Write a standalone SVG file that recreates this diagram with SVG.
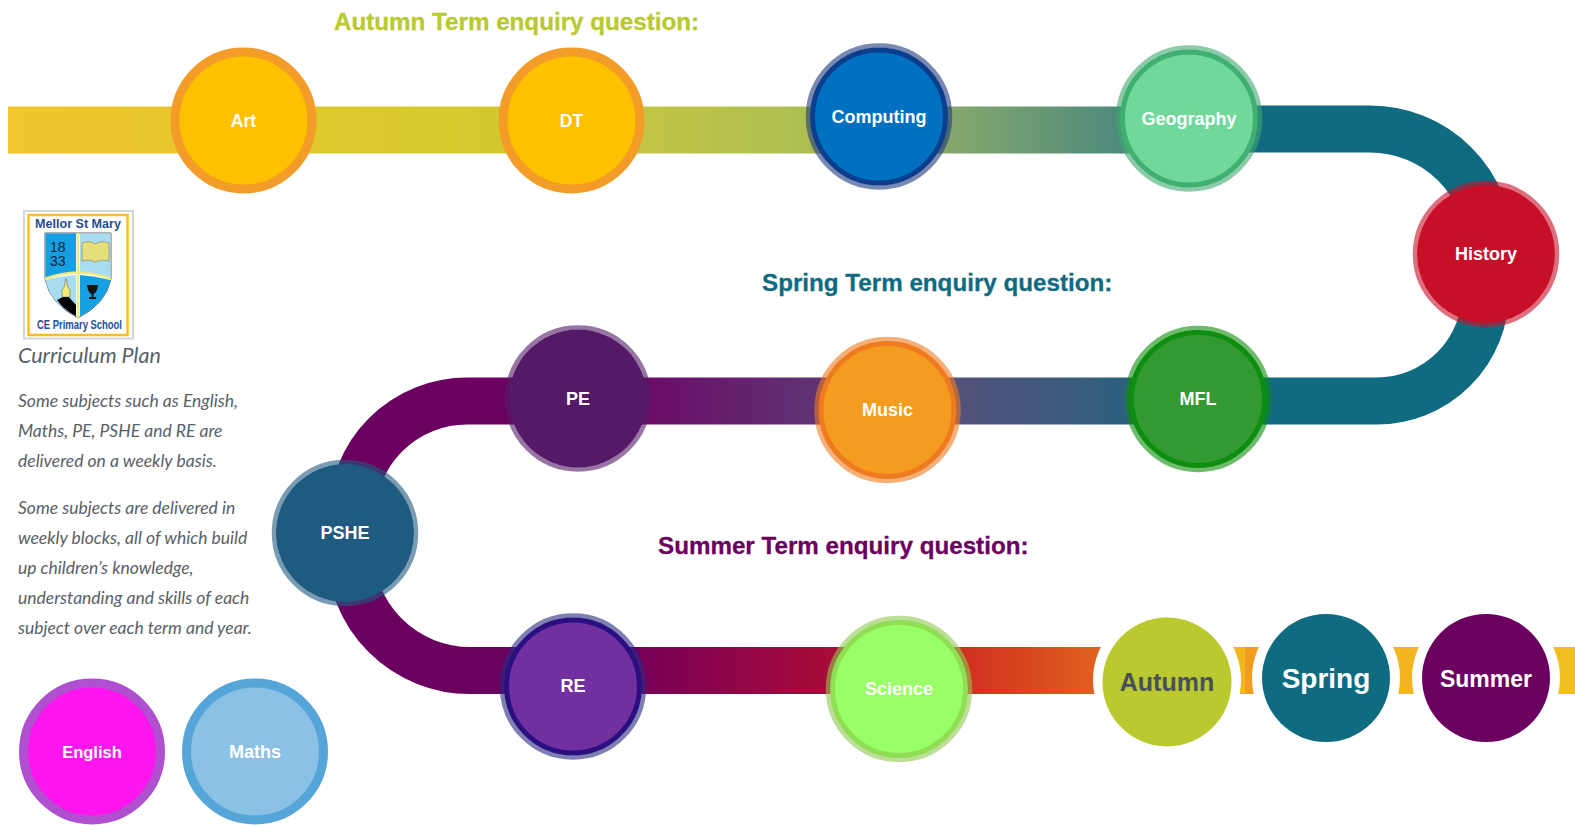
<svg xmlns="http://www.w3.org/2000/svg" width="1575" height="825" viewBox="0 0 1575 825">
<defs>
<linearGradient id="gTop" gradientUnits="userSpaceOnUse" x1="8" y1="0" x2="1190" y2="0">
<stop offset="0" stop-color="#f2c52c"/><stop offset="0.268" stop-color="#dec92c"/><stop offset="0.42" stop-color="#d4c82f"/><stop offset="0.535" stop-color="#c2c545"/><stop offset="0.67" stop-color="#aebf52"/><stop offset="0.797" stop-color="#84a86c"/><stop offset="0.94" stop-color="#4f8a7c"/><stop offset="1" stop-color="#3f8080"/>
</linearGradient>
<linearGradient id="gMid" gradientUnits="userSpaceOnUse" x1="1260" y1="0" x2="640" y2="0">
<stop offset="0" stop-color="#0f6b80"/><stop offset="0.5" stop-color="#55517c"/><stop offset="1" stop-color="#6d0a68"/>
</linearGradient>
<linearGradient id="gBot" gradientUnits="userSpaceOnUse" x1="640" y1="0" x2="1095" y2="0">
<stop offset="0" stop-color="#780058"/><stop offset="0.39" stop-color="#a50a3a"/><stop offset="0.717" stop-color="#d03020"/><stop offset="1" stop-color="#e0601f"/>
</linearGradient>
<style>
.road{fill:none;stroke-width:47}
.single{stroke-width:9}
.halo{fill:none;stroke-width:4.500;stroke-opacity:.6}
.ring{fill:none;stroke-width:5}
.lbl{font-family:"Liberation Sans",Arial,sans-serif;font-weight:700;text-anchor:middle;fill:#fff;font-size:18px}
.head{font-family:"Liberation Sans",Arial,sans-serif;font-weight:700;font-size:24.200px;stroke-width:.3}
.body{font-family:Lato,"Open Sans",sans-serif;font-style:italic;font-size:17.500px;fill:#595f67}
.logo{font-family:"Liberation Sans",Arial,sans-serif;font-weight:700;fill:#1f4e96;text-anchor:middle}
</style>
</defs>
<rect width="1575" height="825" fill="#fff"/>
<g id="connectors">
<path class="road" stroke="url(#gTop)" d="M8 130H1189"/>
<path class="road" stroke="#0f6b80" d="M1189 129H1370A120 120 0 0 1 1490 249L1485.500 292.500A108.500 108.500 0 0 1 1377 401H1260"/>
<path class="road" stroke="url(#gMid)" d="M1260 401H640"/>
<path class="road" stroke="#6b0060" d="M640 401H467A115 115 0 0 0 352 516L350 550A120 120 0 0 0 470 670.500H640"/>
<path class="road" stroke="url(#gBot)" d="M640 670.500H1110"/>
<rect x="1228" y="647" width="17" height="47" fill="#f2b71f"/>
<rect x="1245" y="647" width="20" height="47" fill="#f39c1f"/>
<rect x="1385" y="647" width="35" height="47" fill="#f3b41f"/>
<rect x="1545" y="647" width="30" height="47" fill="#f2bd1f"/>
<circle cx="1167" cy="680" r="74" fill="#fff"/>
<circle cx="1326" cy="678" r="74" fill="#fff"/>
<circle cx="1486" cy="678" r="74" fill="#fff"/>
</g>
<g id="title-autumn"><text class="head" x="334" y="30" fill="#b9c92f" stroke="#b9c92f">Autumn Term enquiry question:</text></g>
<g id="title-spring"><text class="head" x="762" y="291" fill="#0f6b80" stroke="#0f6b80">Spring Term enquiry question:</text></g>
<g id="title-summer"><text class="head" x="658" y="554" fill="#6b0060" stroke="#6b0060">Summer Term enquiry question:</text></g>
<g id="node-art"><circle class="single" cx="243.500" cy="120.500" r="68.500" fill="#ffc000" stroke="#f39c27"/><text class="lbl" x="243.500" y="127" style="font-size:17.500px">Art</text></g>
<g id="node-dt"><circle class="single" cx="571.500" cy="120.500" r="68.500" fill="#ffc000" stroke="#f39c27"/><text class="lbl" x="571.500" y="127" style="font-size:17.500px">DT</text></g>
<g id="node-computing"><circle cx="879" cy="116.500" r="66" fill="#0070c0"/><circle class="ring" cx="879" cy="116.500" r="66.500" stroke="#0b3f8e"/><circle class="halo" cx="879" cy="116.500" r="71" stroke="#1f3a7f"/><text class="lbl" x="879" y="123">Computing</text></g>
<g id="node-geography"><circle cx="1189" cy="118.500" r="66" fill="#70d89a"/><circle class="ring" cx="1189" cy="118.500" r="66.500" stroke="#3fb070"/><circle class="halo" cx="1189" cy="118.500" r="71" stroke="#3fa870"/><text class="lbl" x="1189" y="125">Geography</text></g>
<g id="node-history"><circle cx="1486" cy="254" r="69" fill="#c80f28"/><circle class="halo" cx="1486" cy="254" r="71" stroke="#c80f28"/><text class="lbl" x="1486" y="260">History</text></g>
<g id="node-mfl"><circle cx="1198" cy="399" r="66" fill="#339933"/><circle class="ring" cx="1198" cy="399" r="66.500" stroke="#0e8e0e"/><circle class="halo" cx="1198" cy="399" r="71" stroke="#0e8e0e"/><text class="lbl" x="1198" y="405">MFL</text></g>
<g id="node-music"><circle cx="887.500" cy="410" r="66" fill="#f39c1f"/><circle class="ring" cx="887.500" cy="410" r="66.500" stroke="#ee7b20"/><circle class="halo" cx="887.500" cy="410" r="71" stroke="#ee7b20"/><text class="lbl" x="887.500" y="416">Music</text></g>
<g id="node-pe"><circle cx="578" cy="398.500" r="69" fill="#541a68"/><circle class="halo" cx="578" cy="398.500" r="71" stroke="#541a68"/><text class="lbl" x="578" y="405">PE</text></g>
<g id="node-pshe"><circle cx="345" cy="533" r="69" fill="#1f5a80"/><circle class="halo" cx="345" cy="533" r="71" stroke="#1f5a80"/><text class="lbl" x="345" y="539">PSHE</text></g>
<g id="node-re"><circle cx="573" cy="686.500" r="66" fill="#7030a0"/><circle class="ring" cx="573" cy="686.500" r="66.500" stroke="#2a0f80"/><circle class="halo" cx="573" cy="686.500" r="71" stroke="#2a2a80"/><text class="lbl" x="573" y="692">RE</text></g>
<g id="node-science"><circle cx="899" cy="689" r="66" fill="#99ff66"/><circle class="ring" cx="899" cy="689" r="66.500" stroke="#8fdf55"/><circle class="halo" cx="899" cy="689" r="71" stroke="#8fc850"/><text class="lbl" x="899" y="695">Science</text></g>
<g id="node-english"><circle class="single" cx="92" cy="751.500" r="68.500" fill="#ff15ee" stroke="#b04fcf"/><text class="lbl" x="92" y="758" style="font-size:16.500px">English</text></g>
<g id="node-maths"><circle class="single" cx="255" cy="751.500" r="68.500" fill="#8cc1e6" stroke="#55a5d8"/><text class="lbl" x="255" y="758">Maths</text></g>
<g id="node-autumn"><circle cx="1167" cy="682" r="64.500" fill="#bac92d"/><text class="lbl" x="1167" y="691" style="fill:#474f5c;font-size:25px">Autumn</text></g>
<g id="node-spring"><circle cx="1326" cy="678" r="64" fill="#0f6b80"/><text class="lbl" x="1326" y="688" style="font-size:28px">Spring</text></g>
<g id="node-summer"><circle cx="1486" cy="678" r="64" fill="#6b0060"/><text class="lbl" x="1486" y="687" style="font-size:23px">Summer</text></g>
<g id="logo">
<rect x="24" y="211" width="109" height="127.500" fill="#fff" stroke="#d3d6d9" stroke-width="2"/>
<rect x="28.500" y="215" width="99" height="120" fill="#fff" stroke="#fdbf1e" stroke-width="2.500"/>
<text class="logo" x="78" y="228" font-size="13" textLength="86" lengthAdjust="spacingAndGlyphs">Mellor St Mary</text>
<path d="M45 233H111V279Q106 304 78 318Q50 304 45 279Z" fill="#fff" stroke="#5a6470" stroke-width="1"/>
<path d="M45.500 233.500H76V273Q58 274 45.500 278Z" fill="#16a0e4"/>
<path d="M80 233.500H110.500V278Q95 274 80 273Z" fill="#a8dcf0"/>
<path d="M45.500 280Q58 276 76 275V316Q51 304 45.500 280Z" fill="#a8dcf0"/>
<path d="M80 275Q95 276 110.500 280Q105 304 80 316Z" fill="#16a0e4"/>
<path d="M57 300L67 295L76 305V316Q64 310 57 300Z" fill="#000"/>
<path d="M62 297V290Q65 288 65.500 279H66.500Q67 288 70 290V297Z" fill="#f5e97a" stroke="#333" stroke-width=".4"/>
<path d="M78 233V318M45 279Q78 266 111 279" fill="none" stroke="#f0e980" stroke-width="2.500"/>
<path d="M82 243Q90 240 95.500 244Q101 240 109 243V261Q101 259 95.500 262Q90 259 82 261Z" fill="#e6e07c" stroke="#8a8a60" stroke-width=".7"/>
<path d="M87 285H98Q97 293 93.500 294V297H96V299H89V297H91.500V294Q88 293 87 285Z" fill="#111"/>
<text x="50" y="252" font-family="'Liberation Sans',sans-serif" font-size="14" fill="#123">18</text>
<text x="50" y="266" font-family="'Liberation Sans',sans-serif" font-size="14" fill="#123">33</text>
<text class="logo" x="79.500" y="329" font-size="12" textLength="85" lengthAdjust="spacingAndGlyphs">CE Primary School</text>
</g>
<g id="intro" class="body">
<text x="18" y="363" style="font-size:21.500px">Curriculum Plan</text>
<text x="18" y="407">Some subjects such as English,</text>
<text x="18" y="437">Maths, PE, PSHE and RE are</text>
<text x="18" y="467">delivered on a weekly basis.</text>
<text x="18" y="514">Some subjects are delivered in</text>
<text x="18" y="544">weekly blocks, all of which build</text>
<text x="18" y="574">up children’s knowledge,</text>
<text x="18" y="604">understanding and skills of each</text>
<text x="18" y="634">subject over each term and year.</text>
</g>
</svg>
